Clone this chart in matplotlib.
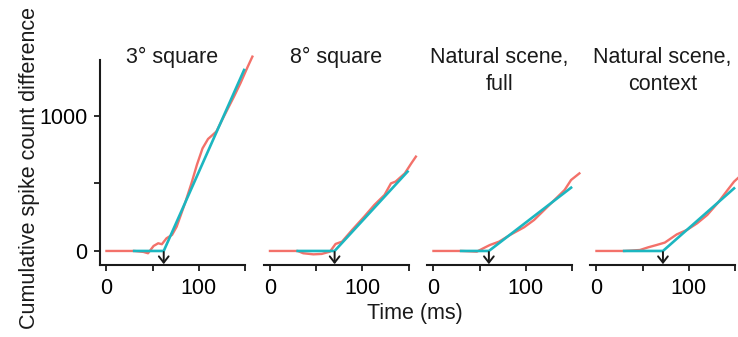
import matplotlib
matplotlib.use("Agg")
from matplotlib import pyplot as plt

plt.rcParams['font.family'] = ['Liberation Sans', 'DejaVu Sans']

RED = '#f3716a'
CYAN = '#1cb6c0'
INK = '#1a1a1a'

titles = ['3° square', '8° square', 'Natural scene,\nfull', 'Natural scene,\ncontext']

# cumulative spike count difference (red traces)
red_t = [
    [0, 30, 40, 45, 51, 56, 60, 65, 71, 76, 85, 92, 98, 104, 110, 115, 119, 127, 138, 145, 153, 158],
    [0, 30, 36, 47, 56, 65, 71, 78, 89, 102, 113, 124, 131, 136, 146, 153, 158],
    [0, 30, 47, 54, 61, 71, 83, 98, 109, 120, 131, 142, 149, 158],
    [0, 30, 47, 56, 65, 74, 87, 98, 109, 120, 131, 142, 149, 158],
]
red_y = [
    [0, 0, -7, -17, 37, 57, 50, 94, 119, 180, 353, 501, 640, 760, 830, 860, 885, 995, 1143, 1242, 1366, 1440],
    [0, 0, -17, -25, -22, -5, 52, 69, 156, 254, 341, 415, 501, 514, 575, 649, 699],
    [0, 0, -5, 20, 44, 69, 119, 175, 230, 304, 378, 452, 526, 575],
    [0, 0, 7, 27, 44, 62, 123, 156, 205, 267, 353, 452, 514, 570],
]

# piecewise-linear fits (cyan): flat baseline, latency knee, linear rise
fit_start = [30, 30, 30, 30]
fit_knee = [62, 70, 60, 72]
fit_end = [149, 149, 149, 149]
fit_end_y = [1341, 588, 469, 464]

fig = plt.figure(figsize=(7.38, 3.37), dpi=100)
W, H = 738, 337
lefts = [100, 263.5, 427, 590]
bottom, top, width = 265, 60, 145

for i in range(4):
    ax = fig.add_axes([lefts[i] / W, 1 - bottom / H, width / W, (bottom - top) / H])
    ax.plot(red_t[i], red_y[i], color=RED, lw=1.7, clip_on=False, zorder=2)
    ax.plot([fit_start[i], fit_knee[i], fit_end[i]], [0, 0, fit_end_y[i]],
            color=CYAN, lw=1.9, clip_on=False, zorder=3)
    ax.annotate('', xy=(fit_knee[i], -98), xytext=(fit_knee[i], -8),
                arrowprops=dict(arrowstyle='->,head_length=0.45,head_width=0.35',
                                color=INK, lw=1.4, shrinkA=0, shrinkB=0))
    ax.set_xlim(-7, 150)
    ax.set_ylim(-104, 1415)
    ax.set_xticks([0, 50, 100, 150])
    ax.set_xticklabels(['0', '', '100', ''])
    for s in ['top', 'right']:
        ax.spines[s].set_visible(False)
    ax.spines['bottom'].set_linewidth(1.5)
    ax.spines['bottom'].set_color(INK)
    ax.tick_params(axis='x', length=4, width=1.3, color=INK, labelsize=15.5, pad=5)
    if i == 0:
        ax.spines['left'].set_linewidth(1.5)
        ax.spines['left'].set_color(INK)
        ax.set_yticks([0, 500, 1000])
        ax.set_yticklabels(['0', '', '1000'])
        ax.tick_params(axis='y', length=4, width=1.3, color=INK, labelsize=15.5, pad=5)
    else:
        ax.spines['left'].set_visible(False)
        ax.set_yticks([])
    ax.patch.set_alpha(0)
    ax.text(0.5, 1.065, titles[i], transform=ax.transAxes, ha='center', va='top',
            fontsize=15.5, color=INK, linespacing=1.4)

fig.text(30 / W, 1 - 168 / H, 'Cumulative spike count difference', rotation=90,
         ha='center', va='center', fontsize=15.5, color=INK)
fig.text(415 / W, 1 - 313 / H, 'Time (ms)', ha='center', va='center',
         fontsize=15.5, color=INK)

fig.savefig('out.png', dpi=100)
